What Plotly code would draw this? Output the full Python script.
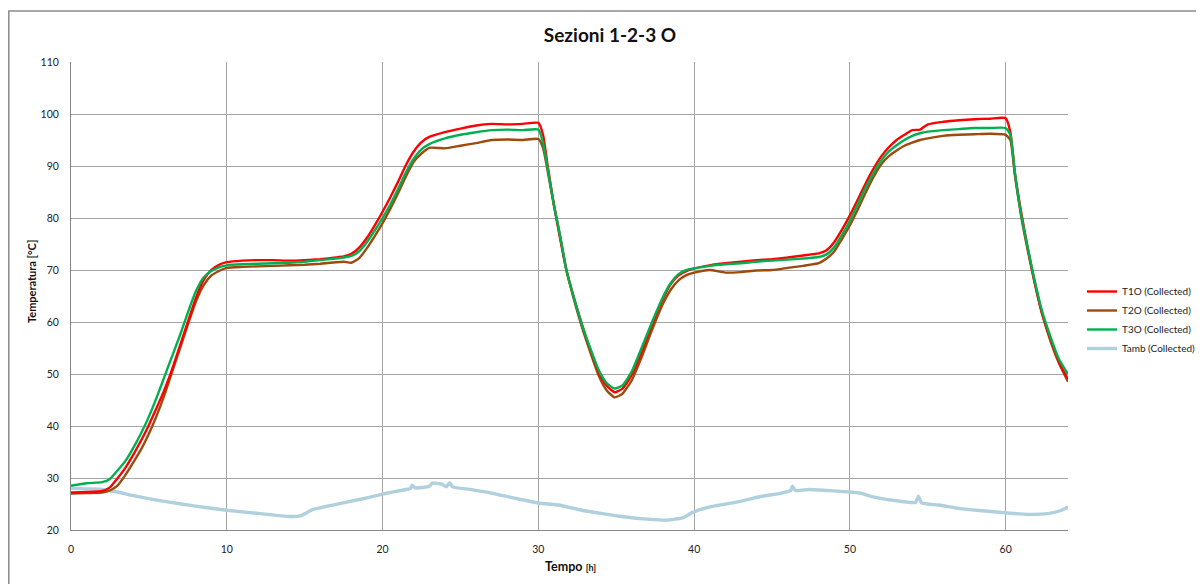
import plotly.graph_objects as go

# ---------------- data ----------------
hours = [0, 1, 2, 2.5, 3, 3.5, 4, 4.5, 5, 5.5, 6, 6.5, 7, 7.5, 8, 8.5, 9, 9.5, 10,
         11, 12, 13, 14, 15, 16, 17, 17.5, 18, 18.5, 19, 19.5, 20, 20.5, 21, 21.5,
         22, 22.5, 23, 24, 25, 26, 27, 28, 29, 30, 30.3, 30.6, 31, 31.4, 31.8,
         32.3, 32.8, 33.3, 33.9, 34.4, 34.9, 35.4, 36, 36.6, 37.3, 38, 38.5, 39,
         39.5, 40, 41, 42, 43, 44, 45, 46, 47, 48, 48.5, 49, 49.5, 50, 50.5, 51,
         51.5, 52, 52.5, 53, 53.5, 54, 54.5, 55, 56, 57, 58, 59, 60, 60.3, 60.6,
         61, 61.4, 61.8, 62.3, 62.8, 63.4, 64]

t1o = [27.2, 27.3, 27.5, 28.2, 30.0, 32.0, 34.5, 37.2, 40.2, 43.5, 47.0, 51.0, 55.5,
       60.0, 64.5, 68.0, 70.0, 71.0, 71.5,
       71.8, 71.9, 71.9, 71.8, 71.9, 72.1, 72.4, 72.6, 73.1, 74.3, 76.2, 78.6, 81.2,
       84.0, 87.0, 90.2,
       92.8, 94.6, 95.6, 96.5, 97.2, 97.8, 98.1, 98.0, 98.1, 98.3, 96.0, 90.0, 82.5,
       76.0, 70.0,
       64.5, 59.5, 55.0, 50.2, 47.7, 46.5, 47.2, 49.8, 54.0, 59.5, 64.5, 67.3, 69.0,
       69.8, 70.3, 70.9, 71.3, 71.6, 71.9, 72.1, 72.4, 72.8, 73.2, 73.8, 75.4, 77.8,
       80.5, 83.5, 86.6,
       89.4, 91.8, 93.6, 95.0, 96.0, 96.9, 97.0, 98.0, 98.5, 98.8, 99.0, 99.1, 99.2,
       96.5, 88.5,
       81.0, 74.5, 68.5, 62.0, 57.5, 52.5, 49.0]

t2o = [27.0, 27.1, 27.2, 27.6, 28.6, 30.6, 33.0, 35.5, 38.5, 42.0, 46.0, 50.5, 55.0,
       59.5, 63.8, 67.0, 68.9, 69.8, 70.4,
       70.6, 70.7, 70.8, 70.9, 71.0, 71.2, 71.5, 71.6, 71.4, 72.3, 74.2, 76.5, 79.0,
       81.8, 84.8, 88.0,
       90.8, 92.4, 93.5, 93.4, 93.9, 94.4, 95.0, 95.1, 95.0, 95.2, 93.5, 89.0, 82.5,
       76.5, 70.0,
       64.2, 59.0, 54.5, 49.5, 46.8, 45.5, 46.2, 48.8, 53.0, 58.5, 63.5, 66.2, 68.0,
       69.0, 69.5, 70.0, 69.5, 69.6, 69.9, 70.0, 70.4, 70.8, 71.3, 72.2, 73.6, 76.0,
       78.6, 81.6, 84.8,
       87.8, 90.3, 91.9, 93.0, 93.9, 94.5, 95.0, 95.3, 95.8, 96.0, 96.1, 96.2, 96.0,
       95.0, 88.0,
       80.2, 74.0, 68.3, 62.0, 57.0, 52.2, 48.5]

t3o = [28.5, 29.0, 29.2, 29.8, 31.5, 33.3, 35.8, 38.6, 41.8, 45.5, 49.5, 53.5, 57.5,
       61.8, 65.8, 68.5, 69.8, 70.5, 70.9,
       71.1, 71.2, 71.3, 71.4, 71.6, 71.9, 72.2, 72.4, 72.7, 73.6, 75.4, 77.6, 80.0,
       82.6, 85.6, 88.8,
       91.4, 93.2, 94.2, 95.3, 96.0, 96.5, 96.9, 97.0, 96.9, 97.0, 94.5, 89.5, 82.5,
       76.5, 70.0,
       64.5, 59.5, 55.2, 50.6, 48.2, 47.2, 47.8, 50.5, 54.8, 60.0, 64.8, 67.5, 69.2,
       70.0, 70.3, 70.8, 71.1, 71.3, 71.6, 71.8, 72.0, 72.2, 72.5, 73.0, 74.4, 76.8,
       79.5, 82.6, 85.8,
       88.6, 91.0, 92.8, 94.0, 95.0, 95.8, 96.3, 96.6, 96.9, 97.1, 97.3, 97.3, 97.3,
       96.0, 88.5,
       80.5, 74.5, 68.8, 62.5, 57.8, 53.0, 50.0]

hours_amb = [0, 1, 2, 3, 4, 6, 8, 10, 12, 14, 14.7, 15.5, 16.8, 18.9, 20, 21, 21.8,
             21.9, 22.1, 23, 23.2, 23.8, 24.1, 24.3, 24.5, 25.6, 27, 28.5, 30, 31.3,
             32.8, 34.2, 35.6, 37, 38.2, 39.3, 39.9, 41.1, 42.8, 44.2, 45.6, 46.2,
             46.3, 46.5, 47.4, 48.5, 50, 50.8, 51.4, 52.8, 54.2, 54.4, 54.6, 55.7,
             57.1, 58.5, 60, 61.4, 62.8, 63.5, 64]
tamb = [28.0, 27.9, 27.8, 27.3, 26.6, 25.5, 24.6, 23.8, 23.2, 22.6, 22.7, 23.9, 24.8,
        26.1, 26.9, 27.5, 28.0,
        28.6, 28.1, 28.4, 29.0, 28.8, 28.3, 29.1, 28.3, 27.8, 27.1, 26.1, 25.2, 24.8,
        23.8, 23.1, 22.5, 22.1, 21.9, 22.4, 23.4, 24.5, 25.4, 26.4, 27.1, 27.6,
        28.4, 27.6, 27.8, 27.6, 27.3, 27.0, 26.4, 25.7, 25.3, 26.5, 25.2, 24.8,
        24.1, 23.7, 23.3, 23.0, 23.2, 23.7, 24.4]

series_names = ["T1O (Collected)", "T2O (Collected)", "T3O (Collected)", "Tamb (Collected)"]
x_ticks = [0, 10, 20, 30, 40, 50, 60]
y_ticks = [20, 30, 40, 50, 60, 70, 80, 90, 100, 110]

# ---------------- figure ----------------
# the page body adds an 8px offset; work in reference screen pixels and shift
OFF = 8
W, H = 1204 - OFF, 584 - OFF
PL, PR, PT, PB = 71, 1068, 62, 530          # plot area in reference pixels
L, R, T, B = PL - OFF, W - (PR - OFF), PT - OFF, H - (PB - OFF)
pw, ph = PR - PL, PB - PT


def px(xs):
    return (xs - PL) / pw


def py(ys):
    return (PB - ys) / ph


FONT = "Lato, 'Open Sans', sans-serif"
LINE_SHAPE = dict(shape="spline", smoothing=0.5)

fig = go.Figure()
fig.add_trace(go.Scatter(x=hours_amb, y=tamb, name=series_names[3], mode="lines",
                         legendrank=4,
                         line=dict(color="#AFD0DC", width=3.4, **LINE_SHAPE)))
fig.add_trace(go.Scatter(x=hours, y=t2o, name=series_names[1], mode="lines",
                         legendrank=2,
                         line=dict(color="#9C4A0E", width=2.4, **LINE_SHAPE)))
fig.add_trace(go.Scatter(x=hours, y=t1o, name=series_names[0], mode="lines",
                         legendrank=1,
                         line=dict(color="#FF0000", width=2.4, **LINE_SHAPE)))
fig.add_trace(go.Scatter(x=hours, y=t3o, name=series_names[2], mode="lines",
                         legendrank=3,
                         line=dict(color="#00B050", width=2.4, **LINE_SHAPE)))

fig.update_layout(
    width=W, height=H,
    margin=dict(l=L, r=R, t=T, b=B, autoexpand=False),
    paper_bgcolor="white", plot_bgcolor="white",
    font=dict(family=FONT, size=10, color="#222222"),
    title=dict(text="<b>Sezioni 1-2-3 O</b>", xref="container", yref="container",
               x=(610 - OFF) / W, xanchor="center",
               y=1 - (35 - OFF) / H, yanchor="middle",
               font=dict(family=FONT, size=19, color="#111111")),
    showlegend=True,
    legend=dict(x=px(1082), xanchor="left", y=py(320), yanchor="middle",
                font=dict(family=FONT, size=10, color="#222222"),
                bgcolor="rgba(0,0,0,0)", traceorder="normal",
                tracegroupgap=0),
    xaxis=dict(range=[0, 64], tickvals=x_ticks, showgrid=True,
               gridcolor="#A6A6A6", gridwidth=1, zeroline=False,
               showline=True, linecolor="#868686", linewidth=1,
               ticks="", ticklabelstandoff=9,
               tickfont=dict(family=FONT, size=10.5, color="#222222")),
    yaxis=dict(range=[20, 110], tickvals=y_ticks, showgrid=True,
               gridcolor="#A6A6A6", gridwidth=1, zeroline=False,
               showline=True, linecolor="#868686", linewidth=1,
               ticks="", ticklabelstandoff=9,
               tickfont=dict(family=FONT, size=10.5, color="#222222")),
    annotations=[
        dict(text="<b>Tempo</b> <b><span style='font-size:9px'>[h]</span></b>",
             xref="paper", yref="paper", x=px(570), y=py(566),
             xanchor="center", yanchor="middle", showarrow=False,
             font=dict(family=FONT, size=12.5, color="#111111")),
        dict(text="<b>Temperatura [°C]</b>", textangle=-90,
             xref="paper", yref="paper", x=px(31), y=py(282),
             xanchor="center", yanchor="middle", showarrow=False,
             font=dict(family=FONT, size=11, color="#111111")),
    ],
    shapes=[
        dict(type="rect", xref="paper", yref="paper",
             x0=px(OFF + 0.8), x1=px(1215), y0=py(600), y1=py(11),
             line=dict(color="#8A8A8A", width=1.5), fillcolor="rgba(0,0,0,0)",
             layer="below"),
    ],
)

fig.write_html("out.html")
